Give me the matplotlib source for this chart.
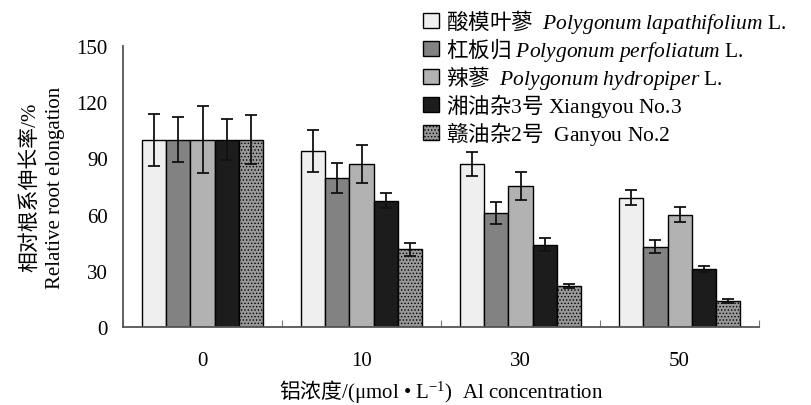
import numpy as np
import matplotlib
matplotlib.use('Agg')
import matplotlib.pyplot as plt

# fonts: Times-like serif for latin, CJK fallback
plt.rcParams['font.family'] = ['Liberation Serif', 'Noto Sans CJK SC']
plt.rcParams['mathtext.fontset'] = 'custom'
plt.rcParams['mathtext.rm'] = 'Liberation Serif'
plt.rcParams['mathtext.it'] = 'Liberation Serif:italic'
plt.rcParams['mathtext.sf'] = 'Noto Sans CJK SC'
plt.rcParams['hatch.linewidth'] = 0.6

# Al concentration groups
conc = ['0', '10', '30', '50']

# relative root elongation (%) and error bars
lapathifolium = [100, 94, 87, 69]
lapathifolium_err = [14, 11, 6.5, 4]
perfoliatum = [100, 79.5, 61, 43]
perfoliatum_err = [12, 8, 6, 3.5]
hydropiper = [100, 87, 75.5, 60]
hydropiper_err = [18, 10, 7.5, 4]
xiangyou = [100, 67.5, 44, 31]
xiangyou_err = [11, 4, 3.5, 1.7]
ganyou = [100, 41.5, 22, 14]
ganyou_err = [13, 3.5, 1, 1.2]

# chinese parts go through \mathsf (-> CJK font) so mathtext can mix them with italics
labels = ['$\\mathsf{酸模叶蓼}$  $\\mathit{Polygonum\\ lapathifolium}$ L.',
          '$\\mathsf{杠板归}$ $\\mathit{Polygonum\\ perfoliatum}$ L.',
          '$\\mathsf{辣蓼}$  $\\mathit{Polygonum\\ hydropiper}$ L.',
          '$\\mathsf{湘油杂}$3$\\mathsf{号}$ Xiangyou No.3',
          '$\\mathsf{赣油杂}$2$\\mathsf{号}$  Ganyou No.2']

series = [lapathifolium, perfoliatum, hydropiper, xiangyou, ganyou]
errs = [lapathifolium_err, perfoliatum_err, hydropiper_err, xiangyou_err, ganyou_err]
colors = ['#efefef', '#828282', '#b2b2b2', '#1c1c1c', '#999999']
hatches = [None, None, None, None, '.....']

fig = plt.figure(figsize=(8.11, 4.06), dpi=100)
ax = fig.add_axes([0.1517, 0.192, 0.7843, 0.692])

x = np.arange(len(conc))
w = 0.152
for i in range(5):
    ax.bar(x + (i - 2) * w, series[i], w, color=colors[i], edgecolor='black',
           linewidth=1.0, hatch=hatches[i], label=labels[i],
           yerr=errs[i], capsize=4.5,
           error_kw=dict(elinewidth=1.3, capthick=1.3, ecolor='#111111'))

ax.set_xlim(-0.5, 3.5)
ax.set_ylim(0, 150)
ax.set_yticks([0, 30, 60, 90, 120, 150])
ax.tick_params(axis='y', length=0, pad=11, labelsize=15)

# boundary ticks (inside) and group labels as minor ticks
ax.set_xticks([-0.5, 0.5, 1.5, 2.5, 3.5])
ax.set_xticklabels([])
ax.tick_params(axis='x', which='major', direction='in', length=5, color='#777777')
ax.set_xticks(x, minor=True)
ax.set_xticklabels(conc, minor=True)
ax.tick_params(axis='x', which='minor', length=0, pad=17, labelsize=15)

for s in ['top', 'right']:
    ax.spines[s].set_visible(False)
for s in ['left', 'bottom']:
    ax.spines[s].set_color('#555555')
    ax.spines[s].set_linewidth(1.3)

ax.set_ylabel('相对根系伸长率/%\nRelative root elongation', fontsize=15,
              linespacing=1.45, labelpad=8)
ax.set_xlabel('$\\mathsf{铝浓度}$/(μmol • L$^{-1}$)  Al concentration', fontsize=15, labelpad=5)

fig.legend(loc='upper left', bbox_to_anchor=(0.522, 0.98), frameon=False,
           fontsize=15.5, handlelength=0.75, handleheight=0.75, handletextpad=0.3,
           labelspacing=0.0, borderpad=0, borderaxespad=0)

plt.savefig('out.png', dpi=100)
